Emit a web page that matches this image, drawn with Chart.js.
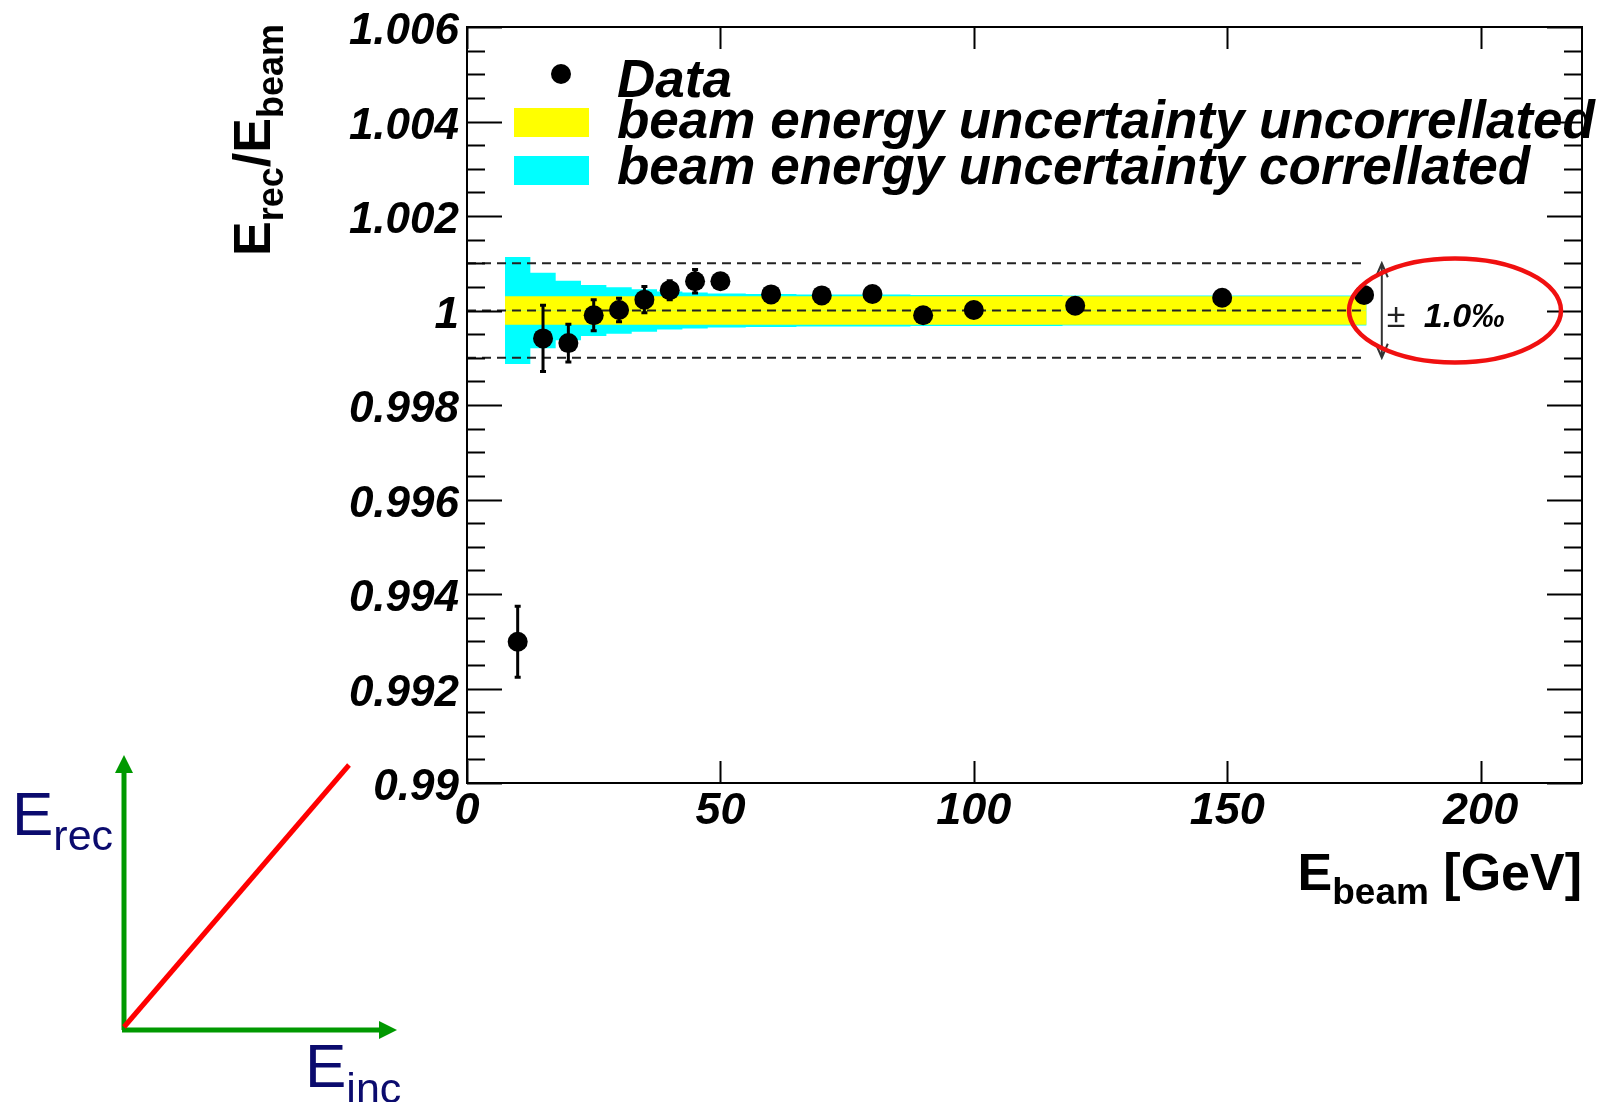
<!DOCTYPE html>
<html>
<head>
<meta charset="utf-8">
<script src="https://cdn.jsdelivr.net/npm/chart.js@4.4.0/dist/chart.umd.min.js"></script>
<style>
  body { margin: 0; background: #fff; }
  canvas { display: block; }
</style>
</head>
<body>
<canvas id="chart" width="1611" height="1102"></canvas>
<script>
// Measured points: beam energy [GeV], E_rec/E_beam and its error
const energies = [10, 15, 20, 25, 30, 35, 40, 45, 50, 60, 70, 80, 90, 100, 120, 149, 177];
const ratios = [0.99299, 0.99941, 0.99931, 0.99990, 1.00001, 1.00023, 1.00043, 1.00062, 1.00062,
                1.00034, 1.00032, 1.00035, 0.99990, 1.00001, 1.00010, 1.00027, 1.00033];
const ratioErrs = [0.00075, 0.0007, 0.0004, 0.00033, 0.00025, 0.00028, 0.0002, 0.00025, 0.00015,
                   0.00012, 0.0001, 0.0001, 0.0001, 0.0001, 0.0001, 0.00015, 0.0001];

// Beam energy uncertainty bands (bin edges, half widths per bin)
const bandEdges = [7.5, 12.5, 17.5, 22.5, 27.5, 32.5, 37.5, 42.5, 47.5, 55, 65, 75, 87.5, 117.5, 177.5];
const corrHalf = [0.00113, 0.0008, 0.00063, 0.00054, 0.00049, 0.00045, 0.0004, 0.00038, 0.00036,
                  0.00035, 0.00034, 0.00034, 0.00033, 0.00032];
const uncorrHalf = [0.0003, 0.0003, 0.0003, 0.0003, 0.0003, 0.0003, 0.0003, 0.0003, 0.0003,
                    0.0003, 0.0003, 0.0003, 0.0003, 0.0003];

// Reference lines (+-1 per mille) and axis ticks
const refLevels = [0.999, 1.0, 1.001];
const refRange = [0, 177.5];
const arrowX = 180.5;
const xTicks = [0, 50, 100, 150, 200];
const yMajorStep = 0.002;
const yMinorStep = 0.0005;

const FONT = "'Liberation Sans', Arial, Helvetica, sans-serif";

function bandLine(half, sign) {
    const pts = [];
    for (let i = 0; i < half.length; i++) {
        pts.push({ x: bandEdges[i], y: 1 + sign * half[i] });
        pts.push({ x: bandEdges[i + 1], y: 1 + sign * half[i] });
    }
    return pts;
}

function bandDataset(half, sign, color, order) {
    return {
        type: 'line',
        data: bandLine(half, sign),
        borderColor: 'rgba(0,0,0,0)',
        borderWidth: 0,
        backgroundColor: color,
        pointRadius: 0,
        fill: { value: 1 },
        order: order
    };
}

function refDataset(level) {
    return {
        type: 'line',
        data: [{ x: refRange[0], y: level }, { x: refRange[1], y: level }],
        borderColor: '#222',
        borderWidth: 2.2,
        borderDash: [9, 6],
        pointRadius: 0,
        fill: false,
        order: 3
    };
}

// Draw a string made of pieces with different size / offset (sub-scripts)
function drawRich(ctx, parts, x, y, align) {
    let total = 0;
    parts.forEach(p => {
        ctx.font = (p.style || 'normal') + ' ' + (p.weight || 'normal') + ' ' + p.size + 'px ' + FONT;
        p.w = ctx.measureText(p.text).width;
        total += p.w;
    });
    let cx = align === 'right' ? x - total : x;
    ctx.textAlign = 'left';
    ctx.textBaseline = 'alphabetic';
    parts.forEach(p => {
        ctx.font = (p.style || 'normal') + ' ' + (p.weight || 'normal') + ' ' + p.size + 'px ' + FONT;
        ctx.fillText(p.text, cx, y + (p.dy || 0));
        cx += p.w;
    });
}

const rootFrame = {
    id: 'rootFrame',
    afterDatasetsDraw(chart) {
        const ctx = chart.ctx;
        const xs = chart.scales.x, ys = chart.scales.y;
        const a = chart.chartArea;
        ctx.save();

        // error bars
        ctx.strokeStyle = '#000';
        ctx.lineWidth = 3;
        energies.forEach((e, i) => {
            const px = xs.getPixelForValue(e);
            const top = ys.getPixelForValue(ratios[i] + ratioErrs[i]);
            const bot = ys.getPixelForValue(ratios[i] - ratioErrs[i]);
            ctx.beginPath();
            ctx.moveTo(px, top); ctx.lineTo(px, bot);
            ctx.moveTo(px - 3, top); ctx.lineTo(px + 3, top);
            ctx.moveTo(px - 3, bot); ctx.lineTo(px + 3, bot);
            ctx.stroke();
        });

        // frame
        ctx.lineWidth = 2;
        ctx.strokeRect(a.left, a.top, a.right - a.left, a.bottom - a.top);

        // y ticks on both sides
        ctx.beginPath();
        for (let v = ys.min; v <= ys.max + 1e-9; v += yMinorStep) {
            const py = Math.round(ys.getPixelForValue(v)) + 0.5;
            const k = Math.round((v - ys.min) / yMinorStep);
            const len = (k % Math.round(yMajorStep / yMinorStep) === 0) ? 35 : 18;
            ctx.moveTo(a.left, py); ctx.lineTo(a.left + len, py);
            ctx.moveTo(a.right, py); ctx.lineTo(a.right - len, py);
        }
        // x ticks bottom and top
        xTicks.forEach(v => {
            const px = Math.round(xs.getPixelForValue(v)) + 0.5;
            ctx.moveTo(px, a.bottom); ctx.lineTo(px, a.bottom - 22);
            ctx.moveTo(px, a.top); ctx.lineTo(px, a.top + 22);
        });
        ctx.stroke();
        ctx.restore();
    },
    afterDraw(chart) {
        const ctx = chart.ctx;
        const xs = chart.scales.x, ys = chart.scales.y;
        const a = chart.chartArea;
        ctx.save();
        ctx.fillStyle = '#000';

        // axis titles
        ctx.save();
        ctx.translate(270, 24);
        ctx.rotate(-Math.PI / 2);
        drawRich(ctx, [
            { text: 'E', size: 52, weight: 'bold' },
            { text: 'rec', size: 36, weight: 'bold', dy: 13 },
            { text: '/E', size: 52, weight: 'bold' },
            { text: 'beam', size: 36, weight: 'bold', dy: 13 }
        ], 0, 0, 'right');
        ctx.restore();

        drawRich(ctx, [
            { text: 'E', size: 52, weight: 'bold' },
            { text: 'beam', size: 37, weight: 'bold', dy: 14 },
            { text: ' [GeV]', size: 52, weight: 'bold' }
        ], a.right, 890, 'right');

        // legend
        ctx.beginPath();
        ctx.arc(561, 74, 10, 0, Math.PI * 2);
        ctx.fill();
        ctx.fillStyle = '#ffff00';
        ctx.fillRect(514, 108, 75, 29);
        ctx.fillStyle = '#00ffff';
        ctx.fillRect(514, 156, 75, 29);
        ctx.fillStyle = '#000';
        ctx.font = 'italic bold 53px ' + FONT;
        ctx.textAlign = 'left';
        ctx.textBaseline = 'alphabetic';
        ctx.fillText('Data', 617, 97);
        ctx.fillText('beam energy uncertainty uncorrellated', 617, 138);
        ctx.fillText('beam energy uncertainty correllated', 617, 184);

        // +-1 per mille arrow and label
        const ax = xs.getPixelForValue(arrowX);
        const yt = ys.getPixelForValue(refLevels[2]);
        const yb = ys.getPixelForValue(refLevels[0]);
        ctx.strokeStyle = '#333';
        ctx.lineWidth = 2;
        ctx.beginPath();
        ctx.moveTo(ax, yt); ctx.lineTo(ax, yb);
        ctx.moveTo(ax - 6, yt + 14); ctx.lineTo(ax, yt); ctx.lineTo(ax + 6, yt + 14);
        ctx.moveTo(ax - 6, yb - 14); ctx.lineTo(ax, yb); ctx.lineTo(ax + 6, yb - 14);
        ctx.stroke();
        const ty = ys.getPixelForValue(1) + 16;
        ctx.fillStyle = '#222';
        ctx.font = 'normal 34px ' + FONT;
        ctx.fillText('\u00b1', ax + 5, ty);
        ctx.fillStyle = '#000';
        ctx.font = 'italic bold 34px ' + FONT;
        ctx.fillText('1.0\u2030', ax + 42, ty);

        // red ellipse
        ctx.strokeStyle = '#f01010';
        ctx.lineWidth = 4.5;
        ctx.beginPath();
        ctx.ellipse(1455, ys.getPixelForValue(1), 106, 52, 0, 0, Math.PI * 2);
        ctx.stroke();

        // sketch in the lower left corner
        ctx.strokeStyle = '#009900';
        ctx.fillStyle = '#009900';
        ctx.lineWidth = 5;
        ctx.beginPath();
        ctx.moveTo(124, 1030); ctx.lineTo(124, 770);
        ctx.moveTo(122, 1030); ctx.lineTo(382, 1030);
        ctx.stroke();
        ctx.beginPath();
        ctx.moveTo(124, 755); ctx.lineTo(115, 773); ctx.lineTo(133, 773); ctx.closePath();
        ctx.fill();
        ctx.beginPath();
        ctx.moveTo(397, 1030); ctx.lineTo(379, 1021); ctx.lineTo(379, 1039); ctx.closePath();
        ctx.fill();
        ctx.strokeStyle = '#ff0000';
        ctx.beginPath();
        ctx.moveTo(124, 1027); ctx.lineTo(349, 765);
        ctx.stroke();
        ctx.fillStyle = '#0b0b6e';
        drawRich(ctx, [
            { text: 'E', size: 62 },
            { text: 'rec', size: 43, dy: 15 }
        ], 12, 835, 'left');
        drawRich(ctx, [
            { text: 'E', size: 62 },
            { text: 'inc', size: 43, dy: 16 }
        ], 305, 1087, 'left');

        ctx.restore();
    }
};

const tickFont = { family: FONT, style: 'italic', weight: 'bold', lineHeight: 0.85 };

new Chart(document.getElementById('chart').getContext('2d'), {
    type: 'scatter',
    data: {
        datasets: [
            {
                label: 'Data',
                data: energies.map((e, i) => ({ x: e, y: ratios[i] })),
                backgroundColor: '#000',
                borderWidth: 0,
                pointRadius: 10,
                order: 1
            },
            refDataset(refLevels[0]),
            refDataset(refLevels[1]),
            refDataset(refLevels[2]),
            bandDataset(uncorrHalf, 1, '#ffff00', 4),
            bandDataset(uncorrHalf, -1, '#ffff00', 4),
            bandDataset(corrHalf, 1, '#00ffff', 5),
            bandDataset(corrHalf, -1, '#00ffff', 5)
        ]
    },
    options: {
        responsive: false,
        animation: false,
        layout: { padding: { left: 0, top: 27, right: 29, bottom: 259 } },
        plugins: {
            legend: { display: false },
            tooltip: { enabled: false }
        },
        scales: {
            x: {
                type: 'linear',
                min: 0,
                max: 220,
                grid: { display: false, drawTicks: false },
                border: { display: false },
                afterBuildTicks: s => { s.ticks = xTicks.map(v => ({ value: v })); },
                ticks: {
                    autoSkip: false,
                    maxRotation: 0,
                    padding: 9,
                    color: '#000',
                    font: Object.assign({ size: 45 }, tickFont)
                },
                afterFit: s => { s.height = 60; }
            },
            y: {
                min: 0.99,
                max: 1.006,
                grid: { display: false, drawTicks: false },
                border: { display: false },
                ticks: {
                    stepSize: yMajorStep,
                    padding: 8,
                    labelOffset: 5,
                    color: '#000',
                    font: Object.assign({ size: 44 }, tickFont),
                    callback: v => String(Number(v.toFixed(4)))
                },
                afterFit: s => { s.width = 467; }
            }
        }
    },
    plugins: [rootFrame]
});
</script>
</body>
</html>
